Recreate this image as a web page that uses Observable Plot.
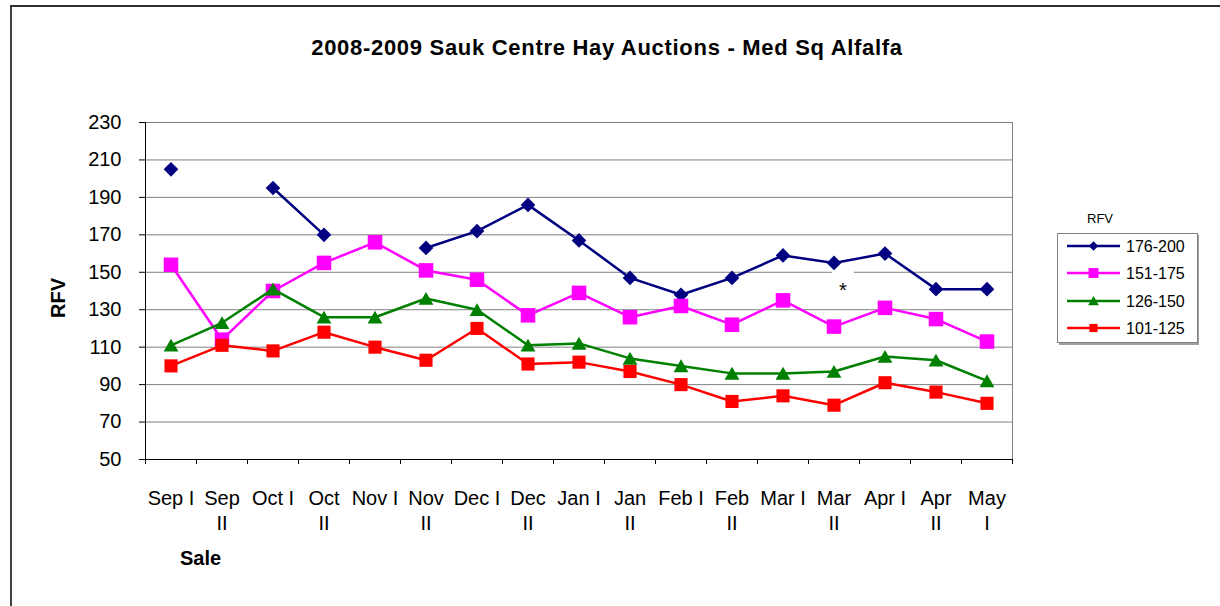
<!DOCTYPE html>
<html>
<head>
<meta charset="utf-8">
<script src="https://cdn.jsdelivr.net/npm/d3@7"></script>
<script src="https://cdn.jsdelivr.net/npm/@observablehq/plot@0.6"></script>
<style>
  body { margin: 0; background: #fff; }
  #wrap { position: relative; width: 1220px; height: 606px; overflow: hidden; background: #fff; font-family: "Liberation Sans", Arial, sans-serif; }
  #chart, #overlay { position: absolute; left: 0; top: 0; }
  #overlay { pointer-events: none; }
</style>
</head>
<body>
<div id="wrap">
  <div id="chart"></div>
  <svg id="overlay" width="1220" height="606"></svg>
</div>
<script>
// ---------- data ----------
const saleLabels = ["Sep I","Sep II","Oct I","Oct II","Nov I","Nov II","Dec I","Dec II","Jan I","Jan II","Feb I","Feb II","Mar I","Mar II","Apr I","Apr II","May I"];
const tickLabels = ["Sep I","Sep\nII","Oct I","Oct\nII","Nov I","Nov\nII","Dec I","Dec\nII","Jan I","Jan\nII","Feb I","Feb\nII","Mar I","Mar\nII","Apr I","Apr\nII","May\nI"];
const seriesNames = ["176-200","151-175","126-150","101-125"];
const rfv176_200 = [205,null,195,170,null,163,172,186,167,147,138,147,159,155,160,141,141];
const rfv151_175 = [154,114,140,155,166,151,146,127,139,126,132,122,135,121,131,125,113];
const rfv126_150 = [111,123,141,126,126,136,130,111,112,104,100,96,96,97,105,103,92];
const rfv101_125 = [100,111,108,118,110,103,120,101,102,97,90,81,84,79,91,86,80];
const yTicks = [50,70,90,110,130,150,170,190,210,230];
const noteSale = "Mar II";
const noteValue = 140;
const noteText = "*";
const titleText = "2008-2009 Sauk Centre Hay Auctions - Med Sq Alfalfa";
const yTitle = "RFV";
const xTitle = "Sale";
const legendTitle = "RFV";

// ---------- styles (kept apart from data) ----------
const seriesStyle = {
  "176-200": {color: "#000080", symbol: "diamond2", r: 6.6, dy: 0, lr: 4.3},
  "151-175": {color: "#FF00FF", symbol: "square", r: 8.2, dy: 0, lr: 5.6},
  "126-150": {color: "#008000", symbol: "triangle", r: 5.5, dy: 2, lr: 4.0},
  "101-125": {color: "#FF0000", symbol: "square", r: 7.4, dy: 0, lr: 4.6}
};

const seriesValues = [rfv176_200, rfv151_175, rfv126_150, rfv101_125];
const rows = [];
seriesNames.forEach((s, k) => {
  seriesValues[k].forEach((v, i) => rows.push({series: s, idx: i, sale: saleLabels[i], value: v}));
});
const cats = saleLabels.map((s, i) => ({sale: s, idx: i, label: tickLabels[i]}));
const boundaries = d3.range(0, saleLabels.length + 1);
const note = [{idx: saleLabels.indexOf(noteSale), value: noteValue, text: noteText}];

const xc = d => d.idx + 0.5;

const marks = [
  Plot.gridY(yTicks, {stroke: "#808080", strokeOpacity: 1, strokeWidth: 1}),
  Plot.frame({stroke: "#808080", strokeWidth: 1}),
  Plot.dot(note, {x: xc, y: d => d.value + 7, symbol: "square", r: 12.2, fill: "white", dx: 9}),
  Plot.text(note, {x: xc, y: "value", text: "text", fontSize: 20, fill: "black", dx: 9})
];
seriesNames.forEach(s => {
  const st = seriesStyle[s];
  const sub = rows.filter(d => d.series === s);
  marks.push(Plot.line(sub, {x: xc, y: "value", stroke: st.color, strokeWidth: 2.5, curve: "linear"}));
  marks.push(Plot.dot(sub.filter(d => d.value != null), {x: xc, y: "value", symbol: st.symbol, r: st.r, fill: st.color, stroke: "none", dy: st.dy}));
});
marks.push(
  Plot.ruleX([0], {stroke: "black", strokeWidth: 1}),
  Plot.ruleY([50], {stroke: "black", strokeWidth: 1}),
  Plot.axisY({ticks: yTicks, tickSize: 6, tickPadding: 18, label: null, fontSize: 20, stroke: "black"}),
  Plot.axisX({ticks: boundaries, tickSize: 5, tickFormat: () => "", label: null, stroke: "black"}),
  Plot.text(cats, {x: xc, text: "label", frameAnchor: "bottom", lineAnchor: "top", dy: 28, fontSize: 20, lineHeight: 1.25, fill: "black"})
);

const chart = Plot.plot({
  width: 1220,
  height: 606,
  marginLeft: 145,
  marginRight: 208,
  marginTop: 122,
  marginBottom: 147,
  x: {type: "linear", domain: [0, saleLabels.length]},
  y: {type: "linear", domain: [50, 230]},
  style: {fontFamily: "'Liberation Sans', Arial, sans-serif", fontSize: "20px", background: "transparent", color: "black"},
  marks
});
document.getElementById("chart").appendChild(chart);

// ---------- overlay: frame, titles, legend ----------
const ov = d3.select("#overlay");
ov.append("rect").attr("x", 10).attr("y", 5).attr("width", 2).attr("height", 601).attr("fill", "#404040");
ov.append("rect").attr("x", 10).attr("y", 5).attr("width", 1210).attr("height", 2).attr("fill", "#303030");

ov.append("text").attr("x", 607).attr("y", 55).attr("text-anchor", "middle")
  .attr("font-family", "'Liberation Sans', Arial, sans-serif").attr("font-size", 22).attr("font-weight", "bold")
  .attr("letter-spacing", 0.7).text(titleText);

ov.append("text").attr("transform", "translate(65,298) rotate(-90)").attr("text-anchor", "middle")
  .attr("font-family", "'Liberation Sans', Arial, sans-serif").attr("font-size", 20).attr("font-weight", "bold").text(yTitle);

ov.append("text").attr("x", 180).attr("y", 565)
  .attr("font-family", "'Liberation Sans', Arial, sans-serif").attr("font-size", 20).attr("font-weight", "bold").text(xTitle);

// legend
ov.append("text").attr("x", 1087).attr("y", 223)
  .attr("font-family", "'Liberation Sans', Arial, sans-serif").attr("font-size", 13).text(legendTitle);
ov.append("rect").attr("x", 1059).attr("y", 235).attr("width", 140).attr("height", 110).attr("fill", "#a0a0a0");
ov.append("rect").attr("x", 1057.5).attr("y", 233.5).attr("width", 140).attr("height", 109).attr("fill", "white").attr("stroke", "#808080");
const ly = [246, 273, 301, 328];
seriesNames.forEach((s, k) => {
  const st = seriesStyle[s];
  const g = ov.append("g").attr("transform", `translate(0,${ly[k]})`);
  g.append("line").attr("x1", 1067).attr("x2", 1120).attr("y1", 0).attr("y2", 0).attr("stroke", st.color).attr("stroke-width", 2.5);
  const symMap = {diamond2: d3.symbolDiamond2, square: d3.symbolSquare, triangle: d3.symbolTriangle};
  g.append("path").attr("transform", `translate(1093.5,${st.dy * 0.6})`)
    .attr("d", d3.symbol(symMap[st.symbol], st.lr * st.lr * Math.PI)()).attr("fill", st.color);
  g.append("text").attr("x", 1126).attr("y", 0).attr("dy", "0.36em")
    .attr("font-family", "'Liberation Sans', Arial, sans-serif").attr("font-size", 16).text(s);
});
</script>
</body>
</html>
